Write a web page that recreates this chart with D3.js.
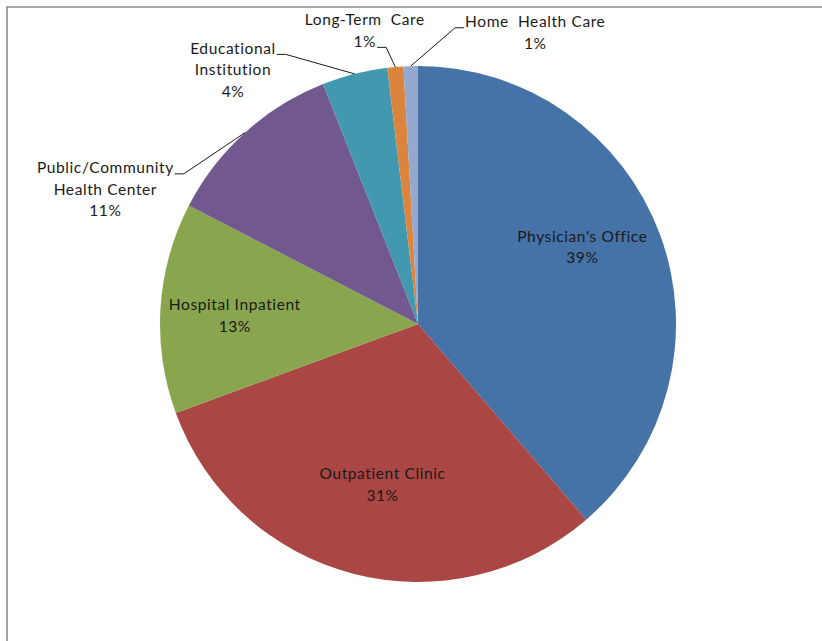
<!DOCTYPE html>
<html>
<head>
<meta charset="utf-8">
<script src="https://cdn.jsdelivr.net/npm/d3@7"></script>
<style>
  html, body { margin: 0; padding: 0; background: #fff; }
  svg text { font-family: Lato, 'Open Sans', sans-serif; font-size: 15.5px; letter-spacing: 0.6px; fill: #1a1a1a; }
</style>
</head>
<body>
<script>
const categories = [
  "Physician's Office",
  'Outpatient Clinic',
  'Hospital Inpatient',
  'Public/Community Health Center',
  'Educational Institution',
  'Long-Term Care',
  'Home Health Care',
];
const values = [38.7, 30.7, 13.2, 11.4, 4.1, 1.0, 0.9];
const labelLines = [
  ["Physician's Office"],
  ['Outpatient Clinic'],
  ['Hospital Inpatient'],
  ['Public/Community', 'Health Center'],
  ['Educational', 'Institution'],
  ['Long-Term  Care'],
  ['Home  Health Care'],
];
const sliceColors = ['#4572A7', '#AA4643', '#89A54E', '#71588F', '#4198AF', '#DB843D', '#93A9CF'];

// label placement: centroid of a label arc plus a nudge, and for outside labels a leader line
const labelLayout = [
  { ring: 0.7, dx: -5, dy: -14 },
  { ring: 0.7, dx: 10, dy: -14 },
  { ring: 0.7, dx: -3, dy: 3 },
  { ring: 1.2, dx: -105, dy: 95, lead: 0, side: 'right' },
  { ring: 1.2, dx: -109, dy: 46, lead: 0, side: 'right' },
  { ring: 1.2, dx: -26, dy: 15, lead: 1, side: 'right' },
  { ring: 1.2, dx: 126, dy: 18, lead: 0, side: 'left' },
];

const W = 822;
const H = 641;
const cx = 418;
const cy = 324;
const R = 258;
const lineH = 21.5;

const svg = d3.select('body').append('svg').attr('width', W).attr('height', H);

// chart area frame (only top and left edges are visible)
svg.append('path')
  .attr('d', `M7,${H} V7 H${W}`)
  .attr('fill', 'none')
  .attr('stroke', '#8c8c8c')
  .attr('stroke-width', 1.6);

const data = values.map((v, i) => ({ name: categories[i], value: v, idx: i }));
const total = d3.sum(values);
const fmt = d3.format('.0%');

const pie = d3.pie().value((d) => d.value).sort(null);
const arcs = pie(data);
const arc = d3.arc().innerRadius(0).outerRadius(R);
const rim = d3.arc().innerRadius(R).outerRadius(R);

const g = svg.append('g').attr('transform', `translate(${cx},${cy})`);

g.selectAll('path.slice')
  .data(arcs)
  .enter()
  .append('path')
  .attr('class', 'slice')
  .attr('d', arc)
  .attr('fill', (d) => sliceColors[d.data.idx]);

g.selectAll('g.label')
  .data(arcs)
  .enter()
  .append('g')
  .attr('class', 'label')
  .each(function (d) {
    const lay = labelLayout[d.data.idx];
    const r = R * lay.ring;
    const c = d3.arc().innerRadius(r).outerRadius(r).centroid(d);
    const x = c[0] + lay.dx;
    const y = c[1] + lay.dy;
    const lines = labelLines[d.data.idx].concat([fmt(d.data.value / total)]);
    const y0 = y - ((lines.length - 1) * lineH) / 2;
    const sel = d3.select(this);
    const texts = lines.map((t, k) =>
      sel.append('text')
        .attr('x', x)
        .attr('y', y0 + k * lineH)
        .attr('dy', '.35em')
        .attr('text-anchor', 'middle')
        .style('white-space', 'pre')
        .text(t)
    );
    if (lay.lead === undefined) return;
    const len = texts[lay.lead].node().getComputedTextLength();
    const ly = y0 + lay.lead * lineH + 6;
    const start = rim.centroid(d);
    let ex, bx;
    if (lay.side === 'right') {
      ex = x + len / 2 + 1;
      bx = ex + 9;
    } else {
      ex = x - len / 2 - 1;
      bx = ex - 9;
    }
    sel.insert('path', 'text')
      .attr('d', d3.line()([start, [bx, ly], [ex, ly]]))
      .attr('fill', 'none')
      .attr('stroke', '#1a1a1a')
      .attr('stroke-width', 1);
  });
</script>
</body>
</html>
